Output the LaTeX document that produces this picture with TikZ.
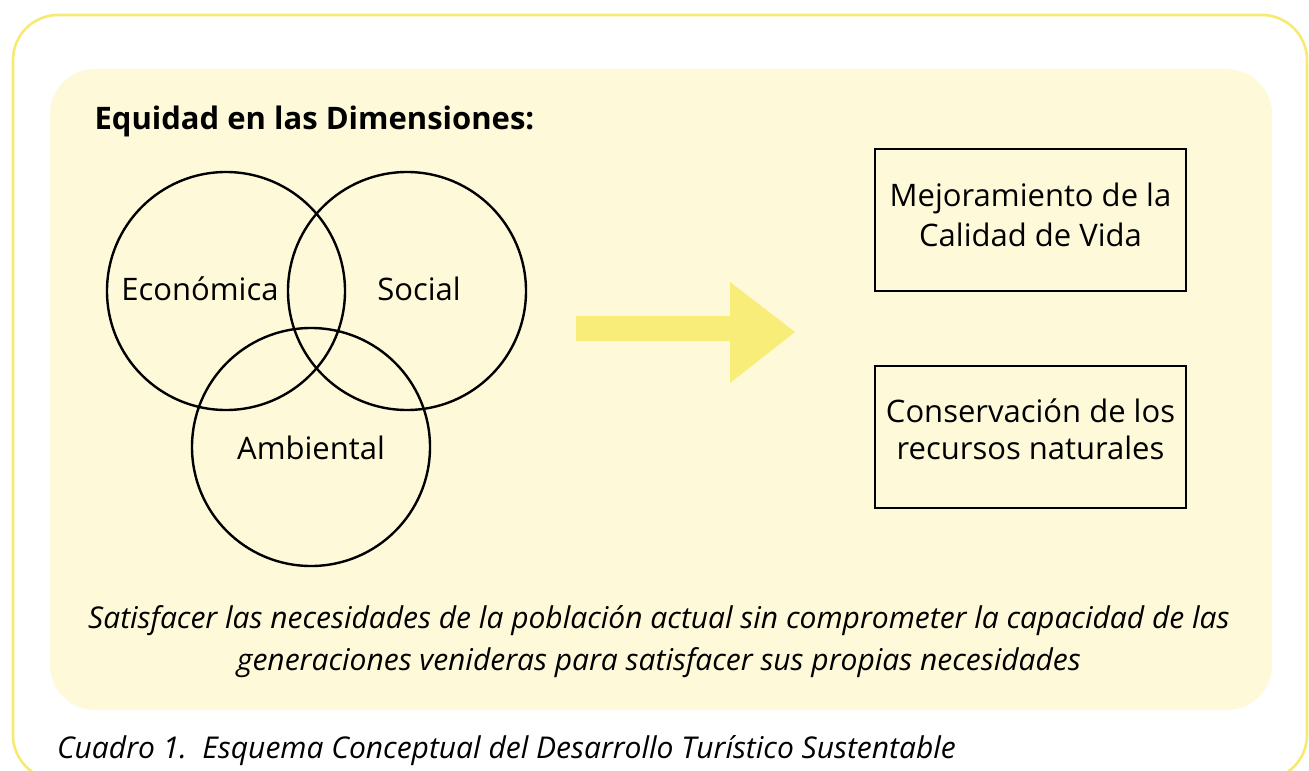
\documentclass[tikz,border=0pt]{standalone}
\usepackage{fontspec}
\setmainfont{Open Sans}
\definecolor{borde}{HTML}{F7EA72}
\definecolor{fondo}{HTML}{FEF9D8}
\definecolor{flecha}{HTML}{F8ED78}
\begin{document}
\begin{tikzpicture}[x=0.5pt,y=-0.5pt,
  dimension/.style={circle,draw,line width=1.2pt,minimum size=119pt,inner sep=0pt},
  etiqueta/.style={font=\fontsize{15.5}{20}\selectfont},
  caja/.style={rectangle,draw,line width=1.1pt,minimum width=155.5pt,minimum height=71pt,align=center,font=\fontsize{15.5}{20}\selectfont}]
\clip (0,0) rectangle (1309,770);
\draw[borde,line width=1.3pt,rounded corners=22.5pt] (13,15) rectangle (1307,780);
\fill[fondo,rounded corners=22.5pt] (50,69) rectangle (1272,710);
% dimensiones
\node[anchor=west,font=\fontsize{15.5}{20}\selectfont\bfseries] (titulo) at (87.5,121) {Equidad en las Dimensiones:};
\node[dimension] (eco) at (226,291) {};
\node[dimension] (soc) at (407,291) {};
\node[dimension] (amb) at (311,447) {};
\node[etiqueta] (teco) at (200,289) {Económica};
\node[etiqueta] (tsoc) at (419,289) {Social};
\node[etiqueta] (tamb) at (311,448) {Ambiental};
% flecha
\fill[flecha] (576,316) -- (730,316) -- (730,282) -- (795,332) -- (730,383) -- (730,341) -- (576,341) -- cycle;
% resultados
\node[caja,text depth=5pt] (mejora) at (1030.5,220) {Mejoramiento de la\\Calidad de Vida};
\node[caja,text depth=8pt,font=\fontsize{15.5}{18.5}\selectfont] (conserva) at (1030.5,437) {Conservación de los\\recursos naturales};
\node[align=center,font=\fontsize{15}{21}\selectfont\itshape] (definicion) at (659,642) {Satisfacer las necesidades de la población actual sin comprometer la capacidad de las\\generaciones venideras para satisfacer sus propias necesidades};
\node[anchor=west,font=\fontsize{15}{20}\selectfont\itshape] (cuadro) at (50,751) {Cuadro 1.\ \ Esquema Conceptual del Desarrollo Turístico Sustentable};
\end{tikzpicture}
\end{document}
